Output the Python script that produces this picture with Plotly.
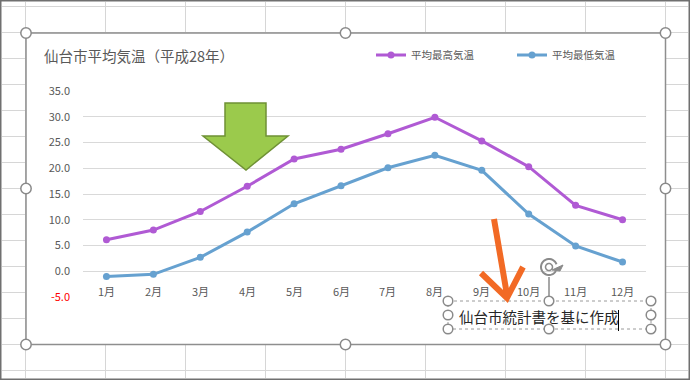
import plotly.graph_objects as go
import numpy as np

months = ["1月", "2月", "3月", "4月", "5月", "6月", "7月", "8月", "9月", "10月", "11月", "12月"]
max_temp = [6.1, 8.0, 11.6, 16.5, 21.8, 23.7, 26.7, 29.9, 25.3, 20.3, 12.8, 10.0]
min_temp = [-1.0, -0.6, 2.7, 7.6, 13.1, 16.6, 20.1, 22.5, 19.6, 11.1, 4.9, 1.8]
y_ticks = [-5, 0, 5, 10, 15, 20, 25, 30, 35]
y_ticktext = ['<span style="color:#ff0000">-5.0</span>'] + [f"{v:.1f}" for v in y_ticks[1:]]

W, H = 690, 380
L, R, T, B = 83, 646, 91, 297

def px(x):
    return (x - L) / (R - L)

def py(y):
    return (B - y) / (B - T)

FONT = "Noto Sans CJK JP"
PURPLE = "#b05ad4"
BLUE = "#66a1d0"

fig = go.Figure()
fig.add_trace(go.Scatter(x=months, y=max_temp, name="平均最高気温", mode="lines+markers",
                         line=dict(color=PURPLE, width=3), marker=dict(size=7, color=PURPLE)))
fig.add_trace(go.Scatter(x=months, y=min_temp, name="平均最低気温", mode="lines+markers",
                         line=dict(color=BLUE, width=3), marker=dict(size=7, color=BLUE)))

shapes = []
# Excel sheet grid
gc = "#d6d6d6"
for x in range(25, 690, 80):
    shapes.append(dict(type="line", xref="paper", yref="paper", x0=px(x + 0.5), x1=px(x + 0.5),
                       y0=py(2), y1=py(378), line=dict(color=gc, width=1), layer="below"))
for y in range(6, 380, 26):
    shapes.append(dict(type="line", xref="paper", yref="paper", x0=px(2), x1=px(688),
                       y0=py(y + 0.5), y1=py(y + 0.5), line=dict(color=gc, width=1), layer="below"))
# chart area
shapes.append(dict(type="rect", xref="paper", yref="paper", x0=px(26), x1=px(665.5), y0=py(33), y1=py(344.5),
                   fillcolor="white", line=dict(color="#8e8e8e", width=1.5), layer="below"))
# outer window frame
shapes.append(dict(type="rect", xref="paper", yref="paper", x0=px(0.75), x1=px(689.25), y0=py(0.75), y1=py(379.25),
                   line=dict(color="#707070", width=1.5), layer="above"))

def handle(cx, cy, r=5.2):
    return dict(type="circle", xref="paper", yref="paper", x0=px(cx - r), x1=px(cx + r),
                y0=py(cy - r), y1=py(cy + r), fillcolor="white",
                line=dict(color="#8a8a8a", width=1.5), layer="above")

# green block arrow
g = [(225, 103), (266, 103), (266, 136), (288, 136), (246, 170), (203, 136), (225, 136)]
path = "M " + " L ".join(f"{px(a):.5f},{py(b):.5f}" for a, b in g) + " Z"
shapes.append(dict(type="path", xref="paper", yref="paper", path=path, fillcolor="#9bca4c",
                   line=dict(color="#6f9135", width=1.5), layer="above"))

# text box (dashed)
shapes.append(dict(type="rect", xref="paper", yref="paper", x0=px(448), x1=px(651), y0=py(301), y1=py(329),
                   line=dict(color="#9a9a9a", width=1, dash="dot"), layer="above"))
# rotation handle stem
shapes.append(dict(type="line", xref="paper", yref="paper", x0=px(549), x1=px(549), y0=py(277), y1=py(301),
                   line=dict(color="#8a8a8a", width=1.5), layer="above"))
# rotation icon (arc)
ang = np.linspace(np.deg2rad(20), np.deg2rad(330), 30)
pts = [(549 + 8 * np.cos(a), 267 - 8 * np.sin(a)) for a in ang]
arc = "M " + " L ".join(f"{px(a):.5f},{py(b):.5f}" for a, b in pts)
shapes.append(dict(type="path", xref="paper", yref="paper", path=arc,
                   line=dict(color="#8a8a8a", width=2), layer="above"))
inner = [(549 + 3.5 * np.cos(a), 267 - 3.5 * np.sin(a)) for a in np.linspace(0, 2 * np.pi, 20)]
shapes.append(dict(type="path", xref="paper", yref="paper",
                   path="M " + " L ".join(f"{px(a):.5f},{py(b):.5f}" for a, b in inner) + " Z",
                   line=dict(color="#8a8a8a", width=1.5), layer="above"))
ah = [(552, 270), (560, 271), (563, 265)]
shapes.append(dict(type="path", xref="paper", yref="paper",
                   path="M " + " L ".join(f"{px(a):.5f},{py(b):.5f}" for a, b in ah) + " Z",
                   fillcolor="#8a8a8a", line=dict(color="#8a8a8a", width=1), layer="above"))

# orange arrow
oa = f"M {px(494):.5f},{py(219):.5f} L {px(507):.5f},{py(295):.5f} M {px(481):.5f},{py(273):.5f} L {px(507):.5f},{py(298):.5f} L {px(523):.5f},{py(267):.5f}"
shapes.append(dict(type="path", xref="paper", yref="paper", path=oa,
                   line=dict(color="#f26a25", width=6), layer="above"))

# text cursor
shapes.append(dict(type="line", xref="paper", yref="paper", x0=px(618.5), x1=px(618.5), y0=py(310), y1=py(331),
                   line=dict(color="#000000", width=1), layer="above"))

for (cx, cy) in [(26, 33), (345.5, 33), (665.5, 33), (26, 188.5), (665.5, 188.5), (26, 344.5), (345.5, 344.5), (665.5, 344.5)]:
    shapes.append(handle(cx, cy))
for (cx, cy) in [(448, 301), (549, 301), (651, 301), (448, 315), (651, 315), (448, 329), (549, 329), (651, 329)]:
    shapes.append(handle(cx, cy, 4.8))

annotations = []
for m in months:
    annotations.append(dict(x=m, y=-3.8, xref="x", yref="y", text=m, showarrow=False,
                            font=dict(family=FONT, size=11, color="#595959"), xanchor="center", yanchor="middle"))
annotations.append(dict(x=px(457), y=py(316), xref="paper", yref="paper", text="仙台市統計書を基に作成",
                        showarrow=False, xanchor="left", yanchor="middle",
                        font=dict(family=FONT, size=14.5, color="#262626")))

fig.update_layout(
    width=W, height=H,
    margin=dict(l=L, r=W - R, t=T, b=H - B, pad=0),
    paper_bgcolor="white", plot_bgcolor="rgba(0,0,0,0)",
    font=dict(family=FONT, color="#595959"),
    title=dict(text="仙台市平均気温（平成28年）", xref="container", yref="container",
               x=44 / W, y=1 - 57 / H, xanchor="left", yanchor="middle",
               font=dict(family=FONT, size=14.5, color="#595959")),
    legend=dict(orientation="h", x=px(371), y=py(55), xanchor="left", yanchor="middle",
                font=dict(family=FONT, size=10.5, color="#595959"), bgcolor="rgba(0,0,0,0)",
                entrywidth=96, entrywidthmode="pixels", itemwidth=30),
    xaxis=dict(type="category", range=[-0.5, 11.5], showgrid=False, showticklabels=False,
               zeroline=False, showline=False, ticks=""),
    yaxis=dict(range=[-5, 35], tickvals=y_ticks, ticktext=y_ticktext, showgrid=True,
               gridcolor="#d9d9d9", gridwidth=1, zeroline=False, showline=False,
               tickfont=dict(family=FONT, size=11, color="#595959"), ticklabelstandoff=12, ticks=""),
    shapes=shapes, annotations=annotations, showlegend=True,
)

fig.write_html("out.html", config={"displayModeBar": False},
               post_script="document.body.style.margin='0';document.body.style.overflow='hidden';")
